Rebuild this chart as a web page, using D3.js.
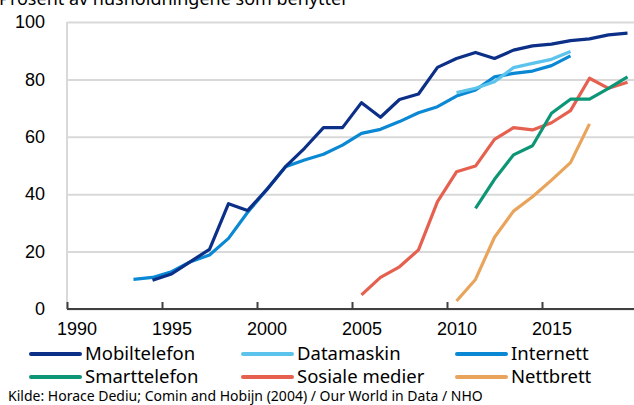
<!DOCTYPE html>
<html>
<head>
<meta charset="utf-8">
<script src="https://cdn.jsdelivr.net/npm/d3@7"></script>
<style>
  body { margin: 0; background: #fff; }
  svg { display: block; font-family: 'Noto Sans', 'Open Sans', sans-serif; }
</style>
</head>
<body>
<div id="chart"></div>
<script>
'use strict';

// andel husholdninger, prosent
const mobiltelefon = [[1994, 10], [1995, 12.2], [1996, 16.5], [1997, 20.8], [1998, 36.7], [1999, 34.3],
  [2000, 41.5], [2001, 49.6], [2002, 56], [2003, 63.2], [2004, 63.2], [2005, 71.9], [2006, 66.8],
  [2007, 73], [2008, 74.9], [2009, 84.2], [2010, 87.3], [2011, 89.4], [2012, 87.3], [2013, 90.2],
  [2014, 91.7], [2015, 92.3], [2016, 93.5], [2017, 94.1], [2018, 95.5], [2019, 96.1]];
const datamaskin = [[2010, 75.4], [2011, 76.9], [2012, 79.2], [2013, 84.1], [2014, 85.6], [2015, 87], [2016, 89.7]];
const internett = [[1993, 10.3], [1994, 11], [1995, 13], [1996, 16.5], [1997, 18.8], [1998, 24.6], [1999, 33.6],
  [2000, 41.5], [2001, 49.6], [2002, 51.9], [2003, 53.9], [2004, 57.1], [2005, 61.2], [2006, 62.6],
  [2007, 65.3], [2008, 68.4], [2009, 70.5], [2010, 74.2], [2011, 76.3], [2012, 80.9], [2013, 82.1],
  [2014, 82.9], [2015, 84.8], [2016, 88.2]];
const smarttelefon = [[2011, 35.1], [2012, 45.2], [2013, 53.7], [2014, 56.9], [2015, 68.2], [2016, 73.1],
  [2017, 73.1], [2018, 76.9], [2019, 80.9]];
const sosialeMedier = [[2005, 4.9], [2006, 11], [2007, 14.7], [2008, 20.6], [2009, 37.4], [2010, 47.8],
  [2011, 49.8], [2012, 59.1], [2013, 63.2], [2014, 62.4], [2015, 64.9], [2016, 69.1], [2017, 80.4],
  [2018, 76.9], [2019, 79]];
const nettbrett = [[2010, 2.8], [2011, 10.3], [2012, 25], [2013, 34.1], [2014, 39.1], [2015, 44.9],
  [2016, 51], [2017, 64.5]];

const seriesNames = ['Mobiltelefon', 'Datamaskin', 'Internett', 'Smarttelefon', 'Sosiale medier', 'Nettbrett'];
const seriesColors = ['#0c2f88', '#5cc3ec', '#0a88d4', '#0d9675', '#e6604f', '#e9a45c'];
const seriesData = [mobiltelefon, datamaskin, internett, smarttelefon, sosialeMedier, nettbrett];
const xTicks = [1990, 1995, 2000, 2005, 2010, 2015];
const yTicks = [0, 20, 40, 60, 80, 100];

const W = 634, H = 405;
const svg = d3.select('#chart').append('svg')
    .attr('width', W)
    .attr('height', H);

// årstall ligger midt i kategorien
const x = d3.scaleLinear().domain([1990, 2020]).range([67, 637]);
const y = d3.scaleLinear().domain([0, 100]).range([309, 22]);

svg.append('text')
    .attr('x', -1)
    .attr('y', 5)
    .style('font-size', '18px')
    .attr('fill', '#000')
    .text('Prosent av husholdningene som benytter');

// gridlines + y labels
const yAxis = svg.append('g')
    .attr('transform', `translate(${x(1990)},0)`)
    .call(d3.axisLeft(y).tickValues(yTicks).tickSize(-(W - x(1990))).tickPadding(22));
yAxis.select('.domain').remove();
yAxis.selectAll('line').attr('stroke', '#d9d9d9').attr('stroke-width', 2);
yAxis.selectAll('text').style('font-size', '18px').attr('fill', '#000');

svg.append('line')
    .attr('x1', x(1990)).attr('x2', x(1990))
    .attr('y1', y(100)).attr('y2', y(0))
    .attr('stroke', '#d9d9d9').attr('stroke-width', 2);

const xAxis = svg.append('g')
    .attr('transform', `translate(0,${y(0)})`)
    .call(d3.axisBottom(x).tickValues(xTicks).tickFormat(d3.format('d'))
      .tickSize(-7).tickSizeOuter(0).tickPadding(13));
xAxis.select('.domain').attr('stroke', '#404040').attr('stroke-width', 2)
    .attr('d', `M${x(1990)},0H${W}`);
xAxis.selectAll('line').attr('stroke', '#404040').attr('stroke-width', 2);
xAxis.selectAll('text').style('font-size', '18px').attr('fill', '#000')
    .attr('dx', (x(1990.5) - x(1990)));

const line = d3.line()
    .x(d => x(d[0] + 0.5))
    .y(d => y(d[1]));

// tegn bakerste serie først
const drawOrder = [5, 4, 3, 2, 1, 0];
svg.append('g').selectAll('path')
    .data(drawOrder)
  .enter().append('path')
    .attr('d', i => line(seriesData[i]))
    .attr('fill', 'none')
    .attr('stroke', i => seriesColors[i])
    .attr('stroke-width', 3.2)
    .attr('stroke-linejoin', 'round');

// legend
const legCols = [31, 243, 457], legRows = [354, 377];
const leg = svg.append('g').selectAll('g')
    .data(seriesNames)
  .enter().append('g')
    .attr('transform', (d, i) => `translate(${legCols[i % 3]},${legRows[Math.floor(i / 3)]})`);
leg.append('line')
    .attr('x1', 0).attr('x2', 49)
    .attr('stroke', (d, i) => seriesColors[i])
    .attr('stroke-width', 4)
    .attr('stroke-linecap', 'round');
leg.append('text')
    .attr('x', 54)
    .attr('dy', '0.35em')
    .style('font-size', '18.5px')
    .text(d => d);

svg.append('text')
    .attr('x', 8)
    .attr('y', 401)
    .style('font-size', '14px')
    .attr('fill', '#000')
    .text('Kilde: Horace Dediu; Comin and Hobijn (2004) / Our World in Data / NHO');
</script>
</body>
</html>
